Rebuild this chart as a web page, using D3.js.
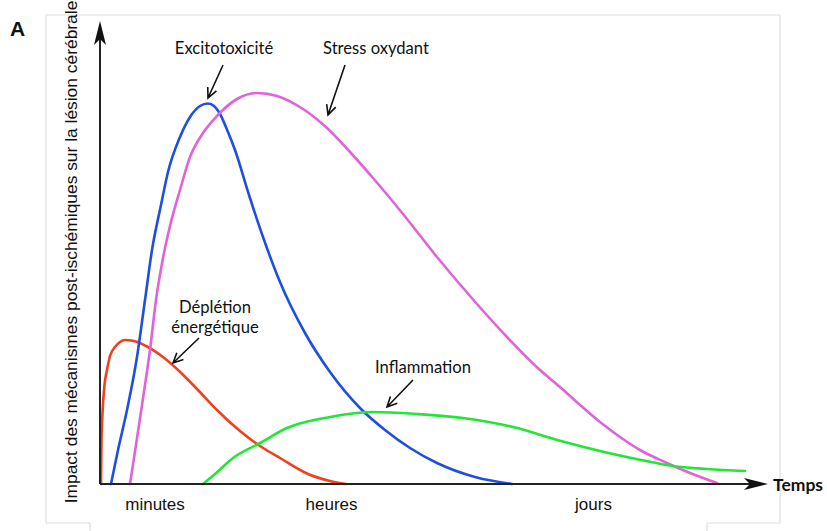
<!DOCTYPE html>
<html>
<head>
  <meta charset="utf-8">
  <title>Mécanismes post-ischémiques</title>
  <script src="https://d3js.org/d3.v7.min.js"></script>
  <style>
    body { margin: 0; background: #fff; }
    svg text { fill: #111; }
    .note { font-family: Lato, "Open Sans", sans-serif; font-size: 16.6px; text-anchor: middle; }
    .axlab { font-family: "Liberation Sans", Arial, sans-serif; font-size: 17.4px; }
  </style>
</head>
<body>
  <script>
    // values (time units, impact units)
    var depletion = [[0.1,0],[0.15,4.4],[0.25,7.1],[0.45,9.9],[0.7,11.4],[1.0,12.8],[1.5,13.7],[2.0,14.2],
      [2.5,14.4],[3.4,14.3],[4.8,13.7],[6.3,12.7],[7.7,11.5],[9.7,9.5],[11.7,7.4],[14.0,5.3],[16.0,3.8],
      [18.0,2.6],[20.8,1.0],[23.0,0.3],[24.6,0]];
    var excito = [[1.1,0],[1.8,3.4],[2.7,7.4],[3.7,12.7],[4.5,18.4],[5.2,23.4],[6.1,27.9],[6.8,31.2],
      [8.0,34.7],[9.0,36.7],[10.0,37.8],[10.8,38.05],[11.4,37.8],[12.0,37.0],[12.8,35.2],[13.5,33.4],
      [14.9,28.9],[16.3,24.7],[18.0,20.2],[20.5,15.1],[23.0,11.2],[26.0,7.6],[28.5,5.4],[31.0,3.6],
      [33.7,2.1],[37.5,0.7],[41.2,0]];
    var stress = [[3.0,0],[3.6,3.9],[4.2,7.9],[5.0,13.4],[5.6,18.4],[6.3,22.6],[7.1,26.2],[8.0,29.4],
      [9.0,32.7],[10.3,35.1],[11.7,36.8],[13.7,38.5],[15.7,39.1],[17.7,38.8],[20.3,37.5],[22.7,35.6],
      [25.0,33.2],[27.3,30.6],[30.3,27.0],[33.7,22.7],[37.0,18.8],[40.7,14.7],[44.0,11.4],[46.0,9.7],
      [48.0,7.9],[50.0,6.2],[52.0,4.7],[54.0,3.4],[56.7,2.1],[59.0,1.1],[61.7,0.1]];
    var inflammation = [[10.3,0],[11.5,1.0],[13.3,2.6],[16.0,4.1],[18.7,5.6],[23.0,6.7],[27.3,7.2],
      [31.7,7.0],[36.3,6.6],[41.3,5.7],[46.1,4.3],[50.0,3.3],[54.1,2.4],[57.3,1.8],[60.7,1.5],[64.5,1.3]];

    var periods = ["minutes", "heures", "jours"];
    var periodAt = [5.45, 23.1, 49.3];

    var series = [
      { name: "Déplétion énergétique", values: depletion, color: "#f0401e" },
      { name: "Excitotoxicité", values: excito, color: "#1f4fe0" },
      { name: "Stress oxydant", values: stress, color: "#e063da" },
      { name: "Inflammation", values: inflammation, color: "#22e636" }
    ];

    // labels with their arrows, in data coordinates
    var notes = [
      { lines: ["Excitotoxicité"], at: [12.4, 43.0], from: [12.3, 41.9], to: [10.8, 38.6] },
      { lines: ["Stress oxydant"], at: [27.6, 43.0], from: [24.5, 41.9], to: [22.8, 36.9] },
      { lines: ["Déplétion", "énergétique"], at: [11.5, 17.1], from: [9.9, 14.6], to: [7.3, 12.1] },
      { lines: ["Inflammation"], at: [32.3, 11.1], from: [31.3, 10.4], to: [28.7, 7.7] }
    ];

    var W = 827, H = 531;
    var svg = d3.select("body").append("svg").attr("width", W).attr("height", H);

    var x = d3.scaleLinear().domain([0, 65]).range([100, 750]);
    var y = d3.scaleLinear().domain([0, 40]).range([484, 84]);

    // faint frame of the original figure
    var frame = [[46,523,46,15],[46,15,780,15],[780,15,780,523],[46,523,90,523],[90,523,90,531],
      [707,523,780,523],[707,523,707,531]];
    svg.selectAll("line.frame").data(frame).enter().append("line")
      .attr("class", "frame")
      .attr("x1", function(d) { return d[0]; }).attr("y1", function(d) { return d[1]; })
      .attr("x2", function(d) { return d[2]; }).attr("y2", function(d) { return d[3]; })
      .attr("stroke", "#dddddd").attr("stroke-width", 1.2);

    svg.append("text").attr("x", 10).attr("y", 36)
      .style("font-family", "Liberation Sans, Arial, sans-serif")
      .style("font-weight", "bold").style("font-size", "21px").text("A");

    // curves
    var line = d3.line()
      .x(function(d) { return x(d[0]); })
      .y(function(d) { return y(d[1]); })
      .curve(d3.curveMonotoneX);

    svg.selectAll("path.curve").data(series).enter().append("path")
      .attr("class", "curve")
      .attr("d", function(d) { return line(d.values); })
      .attr("fill", "none")
      .attr("stroke", function(d) { return d.color; })
      .attr("stroke-width", 2.6)
      .attr("stroke-linejoin", "round")
      .attr("stroke-linecap", "round");

    // axes with arrow heads
    var x0 = x(0), y0 = y(0);
    svg.append("line").attr("x1", x0).attr("y1", y0).attr("x2", x0).attr("y2", 38)
      .attr("stroke", "#222").attr("stroke-width", 2);
    svg.append("path").attr("d", "M" + x0 + ",21 L" + (x0 + 6) + ",45 L" + x0 + ",39 L" + (x0 - 6) + ",45 Z")
      .attr("fill", "#111");
    svg.append("line").attr("x1", x0).attr("y1", y0).attr("x2", 750).attr("y2", y0)
      .attr("stroke", "#222").attr("stroke-width", 2);
    svg.append("path").attr("d", "M768," + y0 + " L744," + (y0 - 6) + " L750," + y0 + " L744," + (y0 + 6) + " Z")
      .attr("fill", "#111");

    var xAxis = d3.axisBottom(x).tickValues(periodAt)
      .tickFormat(function(d, i) { return periods[i]; })
      .tickSize(0).tickPadding(14);
    var gx = svg.append("g").attr("transform", "translate(0," + y0 + ")").call(xAxis);
    gx.select(".domain").remove();
    gx.selectAll("text").attr("fill", "#111")
      .style("font-family", "Liberation Sans, Arial, sans-serif").style("font-size", "17px");

    svg.append("text").attr("x", 773).attr("y", 491)
      .style("font-family", "Lato, sans-serif").style("font-weight", "bold").style("font-size", "17.5px")
      .text("Temps");

    svg.append("text").attr("class", "axlab")
      .attr("transform", "translate(77," + 252 + ") rotate(-90)")
      .attr("text-anchor", "middle")
      .text("Impact des mécanismes post-ischémiques sur la lésion cérébrale");

    // annotations
    var g = svg.selectAll("g.note").data(notes).enter().append("g").attr("class", "note");
    g.each(function(d) {
      var el = d3.select(this);
      d.lines.forEach(function(t, i) {
        el.append("text").attr("class", "note")
          .attr("x", x(d.at[0])).attr("y", y(d.at[1]) + i * 20).text(t);
      });
      var x1 = x(d.from[0]), y1 = y(d.from[1]), x2 = x(d.to[0]), y2 = y(d.to[1]);
      var a = Math.atan2(y2 - y1, x2 - x1), L = 11, s = 0.45;
      el.append("path")
        .attr("d", "M" + x1 + "," + y1 + "L" + x2 + "," + y2 +
          "M" + (x2 - L * Math.cos(a - s)) + "," + (y2 - L * Math.sin(a - s)) + "L" + x2 + "," + y2 +
          "L" + (x2 - L * Math.cos(a + s)) + "," + (y2 - L * Math.sin(a + s)))
        .attr("fill", "none").attr("stroke", "#111").attr("stroke-width", 1.6);
    });
  </script>
</body>
</html>
